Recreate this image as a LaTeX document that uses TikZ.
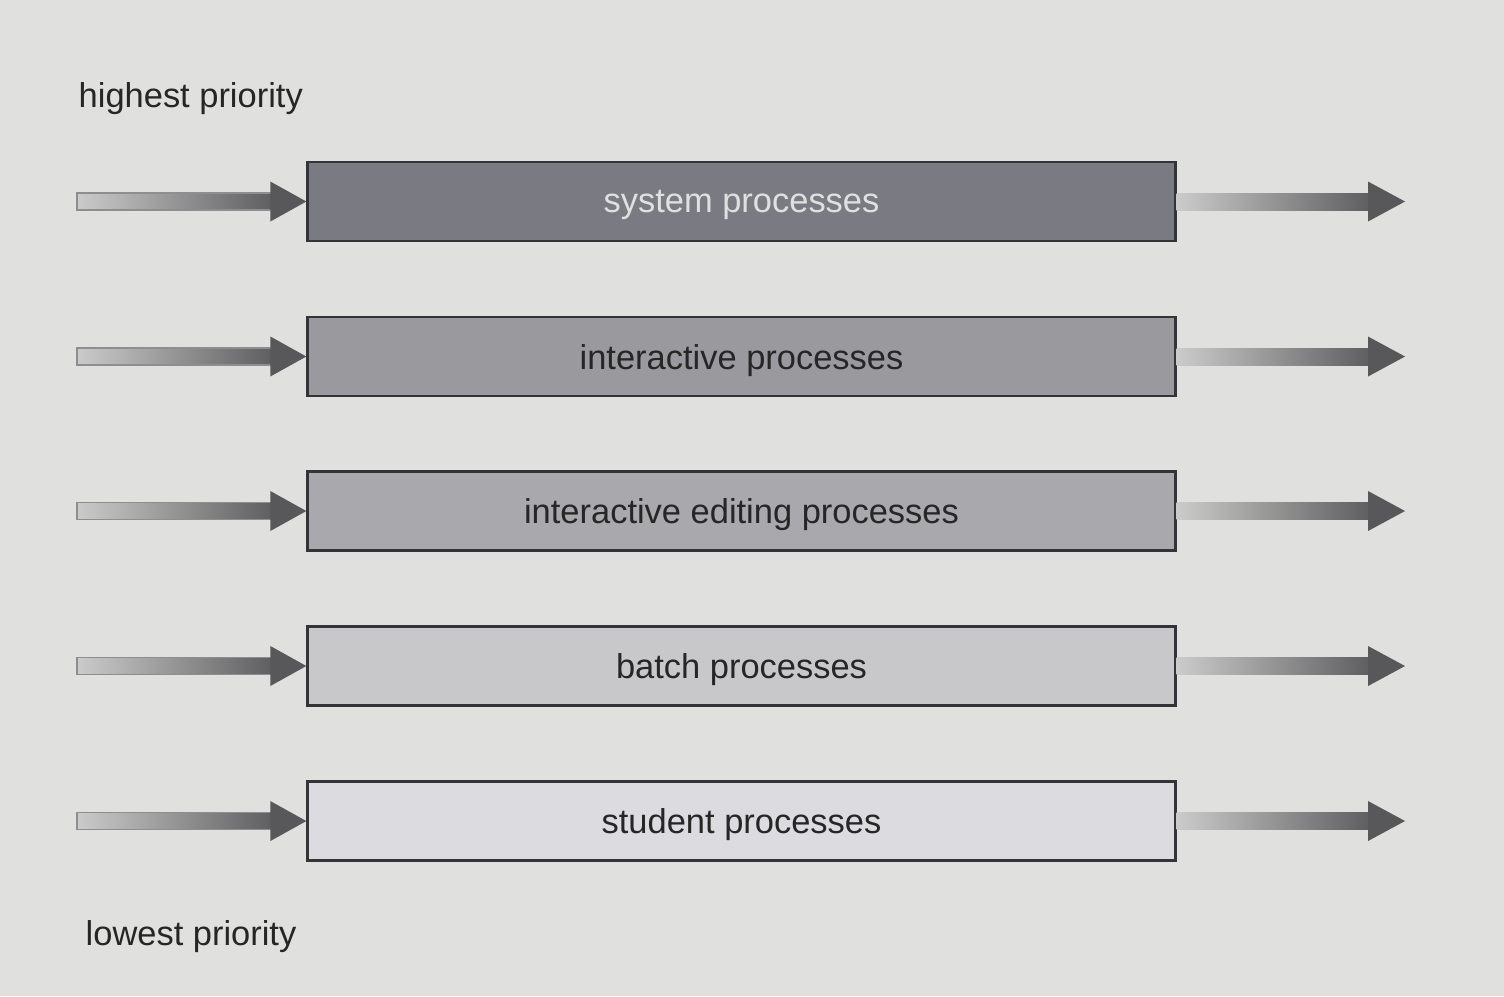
\documentclass[tikz,border=0pt]{standalone}
\usepackage{fontspec}
\setmainfont{Liberation Sans}
\definecolor{bg}{HTML}{E0E0DE}
\definecolor{c1}{HTML}{7A7A82}
\definecolor{c2}{HTML}{9A9A9E}
\definecolor{c3}{HTML}{A9A9AD}
\definecolor{c4}{HTML}{C8C8CA}
\definecolor{c5}{HTML}{DCDCE0}
\definecolor{edge}{HTML}{333338}
\definecolor{shaftL}{HTML}{CBCBCB}
\definecolor{shaftR}{HTML}{5E5E60}
\definecolor{headc}{HTML}{58585A}
\begin{document}
\begin{tikzpicture}[x=0.01cm,y=-0.01cm,
  queue/.style={draw=edge,line width=0.8pt,inner sep=0pt,text depth=0pt,font=\fontsize{9.8}{12}\selectfont},
  lbl/.style={font=\fontsize{9.8}{12}\selectfont,text=black!85,inner sep=0pt}]
\fill[bg] (0,0) rectangle (1504,996);
\useasboundingbox (0,0) rectangle (1504,996);
\foreach \i/\y/\c/\t/\tc in {1/201.5/c1/system processes/white!88!black,2/356.5/c2/interactive processes/black!85,3/511/c3/interactive editing processes/black!85,4/666/c4/batch processes/black!85,5/821/c5/student processes/black!85}{
  \node[queue,fill=\c,text=\tc,minimum width=8.67cm,minimum height=0.79cm] (q\i) at (741.5,\y) {\t};
  \coordinate (s\i) at (77,\y);
  \coordinate (e\i) at (1405,\y);
  % left arrow
  \shade[left color=shaftL,right color=shaftR,draw=shaftR!70,line width=0.3pt] ([yshift=8.5*0.01cm]s\i) rectangle ([xshift=-33*0.01cm,yshift=-8.5*0.01cm]q\i.west);
  \fill[headc] (q\i.west) -- ++(-36,20) -- ++(0,-40) -- cycle;
  % right arrow
  \shade[left color=shaftL,right color=shaftR] ([yshift=8.5*0.01cm]q\i.east) rectangle ([xshift=-35*0.01cm,yshift=-8.5*0.01cm]e\i);
  \fill[headc] (e\i) -- ++(-37,20) -- ++(0,-40) -- cycle;
}
\node[lbl,anchor=base west] (hi) at (78,107) {highest priority};
\node[lbl,anchor=base west] (lo) at (85,945) {lowest priority};
\end{tikzpicture}
\end{document}
